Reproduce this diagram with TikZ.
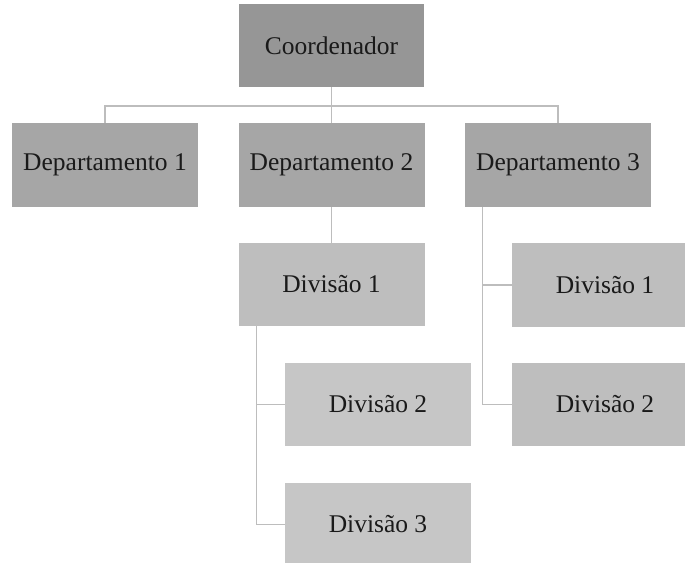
\documentclass[tikz,border=0pt]{standalone}
\usepackage{fontspec}
\setmainfont{Liberation Serif}
\definecolor{cTop}{HTML}{969696}
\definecolor{cDep}{HTML}{A6A6A6}
\definecolor{cDiv}{HTML}{BEBEBE}
\definecolor{cDivL}{HTML}{C6C6C6}
\definecolor{cLine}{HTML}{BDBDBD}
\definecolor{cTxt}{HTML}{1A1A1A}
\tikzset{
  box/.style={rectangle, minimum width=186pt, minimum height=83.5pt, inner sep=0pt,
    text=cTxt, font=\fontsize{25.5}{30}\selectfont},
  topbox/.style={box, fill=cTop, minimum width=185pt},
  depbox/.style={box, fill=cDep},
  divbox/.style={box, fill=cDiv},
  divlbox/.style={box, fill=cDivL},
  conn/.style={draw=cLine, line width=1.2pt}
}
\begin{document}
\begin{tikzpicture}[x=1pt,y=-1pt]
\useasboundingbox (0,0) rectangle (685,562);
\node[topbox] (coord) at (331.5,45.5) {Coordenador};
\node[depbox] (d1) at (105,165) {Departamento 1};
\node[depbox] (d2) at (331.5,165) {Departamento 2};
\node[depbox] (d3) at (558,165) {Departamento 3};
\node[divbox] (m1) at (331.5,284.5) {Divisão 1};
\node[divlbox] (m2) at (378,404.5) {Divisão 2};
\node[divlbox] (m3) at (378,524.5) {Divisão 3};
\node[divbox] (r1) at (605,285) {Divisão 1};
\node[divbox] (r2) at (605,404.5) {Divisão 2};
\coordinate (bus) at (331.5,106);
\draw[conn] (coord.south) -- (bus);
\draw[conn] (bus) -- (d2.north);
\draw[conn] (bus) -| (d1.north);
\draw[conn] (bus) -| (d3.north);
\draw[conn] (d2.south) -- (m1.north);
\draw[conn] ([xshift=18pt]m1.south west) |- (m2.west);
\draw[conn] ([xshift=18pt]m1.south west) |- (m3.west);
\draw[conn] ([xshift=18pt]d3.south west) |- (r1.west);
\draw[conn] ([xshift=18pt]d3.south west) |- (r2.west);
\end{tikzpicture}
\end{document}
